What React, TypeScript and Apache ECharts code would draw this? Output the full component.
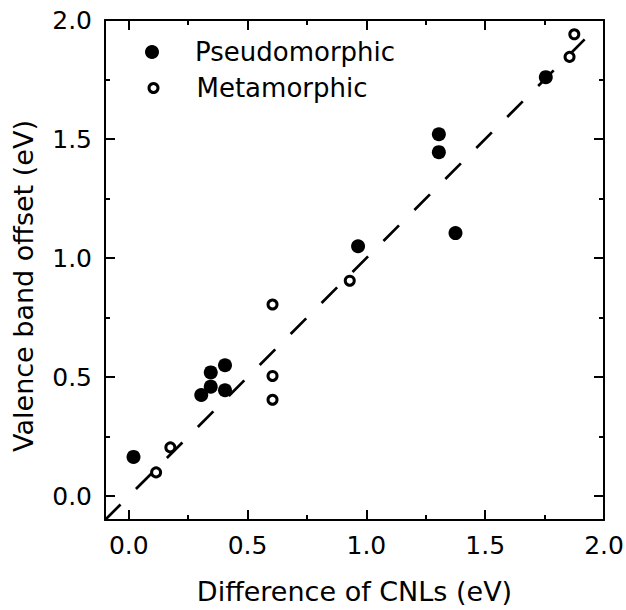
import React, { useEffect, useRef } from "react";
import * as echarts from "echarts";

// Data
const pseudoX = [0.02, 0.305, 0.345, 0.345, 0.405, 0.405, 0.965, 1.305, 1.305, 1.375, 1.755];
const pseudoY = [0.165, 0.425, 0.52, 0.46, 0.55, 0.445, 1.05, 1.52, 1.445, 1.105, 1.76];
const metaX = [0.115, 0.175, 0.605, 0.605, 0.605, 0.93, 1.855, 1.875];
const metaY = [0.1, 0.205, 0.805, 0.505, 0.405, 0.905, 1.845, 1.94];
const fitX = [-0.1, 1.925];
const fitY = [-0.1, 1.925];
const majorTicks = [0, 0.5, 1.0, 1.5, 2.0];
const minorTicks = [0.25, 0.75, 1.25, 1.75];
const axisMin = -0.1;
const axisMax = 2.0;
const xTitle = "Difference of CNLs (eV)";
const yTitle = "Valence band offset (eV)";
const seriesNames = ["Pseudomorphic", "Metamorphic"];

const FONT = "'DejaVu Sans', sans-serif";

function zip(a: number[], b: number[]) {
  return a.map((v, i) => [v, b[i]]);
}

function makeAxis(position: string, major: boolean, withLabels: boolean, extra: any = {}) {
  return {
    type: "value",
    position,
    min: axisMin,
    max: axisMax,
    axisLine: { show: major, onZero: false, lineStyle: { color: "#000", width: 2 } },
    axisTick: {
      show: true,
      inside: true,
      customValues: major ? majorTicks : minorTicks,
      length: major ? 10 : 5,
      lineStyle: { color: "#000", width: 2 },
    },
    axisLabel: withLabels
      ? {
          show: true,
          customValues: majorTicks,
          formatter: (v: number) => v.toFixed(1),
          fontFamily: FONT,
          fontSize: 25,
          color: "#000",
          margin: 13,
        }
      : { show: false },
    splitLine: { show: false },
    minorTick: { show: false },
    ...extra,
  };
}

export default function App() {
  const ref = useRef<HTMLDivElement>(null);
  useEffect(() => {
    if (!ref.current) return;
    const chart = echarts.init(ref.current, undefined, { renderer: "svg" });
    chart.setOption({
      animation: false,
      backgroundColor: "#fff",
      textStyle: { fontFamily: FONT },
      grid: { left: 105, right: 22, top: 20, bottom: 90, containLabel: false, outerBoundsMode: "none" },
      xAxis: [
        makeAxis("bottom", true, true, {
          name: xTitle,
          nameLocation: "middle",
          nameGap: 58,
          nameTextStyle: { fontFamily: FONT, fontSize: 27, color: "#000" },
        }),
        makeAxis("bottom", false, false),
        makeAxis("top", true, false),
        makeAxis("top", false, false),
      ],
      yAxis: [
        makeAxis("left", true, true, {
          name: yTitle,
          nameLocation: "middle",
          nameGap: 68,
          nameTextStyle: { fontFamily: FONT, fontSize: 27, color: "#000", padding: [0, 32, 0, 0] },
        }),
        makeAxis("left", false, false),
        makeAxis("right", true, false),
        makeAxis("right", false, false),
      ],
      legend: [
        {
          data: [{ name: seriesNames[0], icon: "circle", itemStyle: { color: "#000" } }],
          left: 145,
          top: 39,
          padding: 0,
          itemWidth: 14,
          itemHeight: 14,
          selectedMode: false,
          textStyle: { fontFamily: FONT, fontSize: 26, color: "#000", padding: [0, 0, 0, 31] },
        },
        {
          data: [
            {
              name: seriesNames[1],
              icon: "circle",
              itemStyle: { color: "#fff", borderColor: "#000", borderWidth: 3 },
            },
          ],
          left: 147.5,
          top: 75,
          padding: 0,
          itemWidth: 9,
          itemHeight: 9,
          selectedMode: false,
          textStyle: { fontFamily: FONT, fontSize: 26, color: "#000", padding: [0, 0, 0, 33.5] },
        },
      ],
      series: [
        {
          name: "fit",
          type: "line",
          data: zip(fitX, fitY),
          showSymbol: false,
          symbol: "none",
          z: 1,
          silent: true,
          lineStyle: { color: "#000", width: 2.7, type: [22, 21.8], cap: "butt" },
        },
        {
          name: seriesNames[0],
          type: "scatter",
          data: zip(pseudoX, pseudoY),
          symbol: "circle",
          symbolSize: 14,
          z: 3,
          itemStyle: { color: "#000", opacity: 1 },
        },
        {
          name: seriesNames[1],
          type: "scatter",
          data: zip(metaX, metaY),
          symbol: "circle",
          symbolSize: 9,
          z: 3,
          itemStyle: { color: "#fff", borderColor: "#000", borderWidth: 3, opacity: 1 },
        },
      ],
    });
    return () => chart.dispose();
  }, []);
  return (
    <div
      ref={ref}
      style={{ position: "fixed", left: 0, top: 0, width: 626, height: 610, background: "#fff" }}
    />
  );
}
